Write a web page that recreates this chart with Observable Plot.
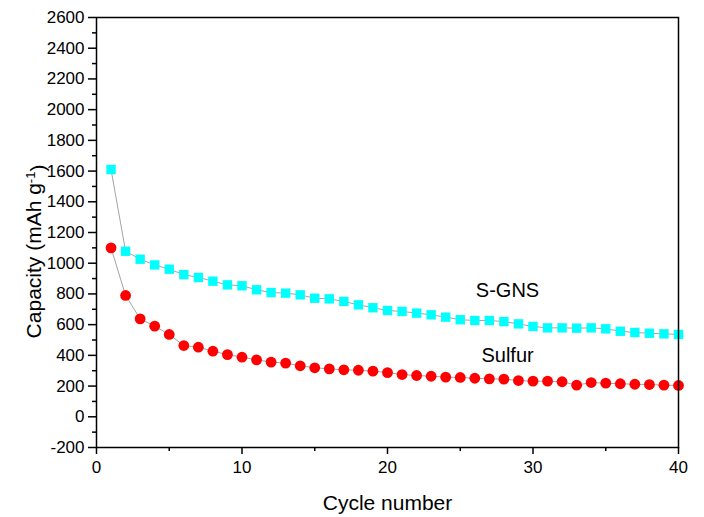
<!DOCTYPE html>
<html>
<head>
<meta charset="utf-8">
<script src="https://cdn.jsdelivr.net/npm/d3@7"></script>
<script src="https://cdn.jsdelivr.net/npm/@observablehq/plot@0.6"></script>
<style>
  html, body { margin: 0; padding: 0; background: #ffffff; }
  #chart { width: 704px; height: 517px; }
</style>
</head>
<body>
<div id="chart"></div>
<script>
const cycles = [1,2,3,4,5,6,7,8,9,10,11,12,13,14,15,16,17,18,19,20,21,22,23,24,25,26,27,28,29,30,31,32,33,34,35,36,37,38,39,40];
const sgns = [1610,1078,1026,989,961,926,907,883,859,853,827,809,805,794,772,768,751,729,710,692,686,675,664,649,632,627,627,620,605,588,579,579,577,579,573,557,549,544,540,536];
const sulfur = [1100,790,638,590,536,464,453,427,405,388,371,356,349,332,319,312,306,303,297,288,275,269,264,258,256,251,247,245,236,232,232,228,206,223,219,215,212,210,206,204];
const yMajor = [-200,0,200,400,600,800,1000,1200,1400,1600,1800,2000,2200,2400,2600];
const yMinor = [-100,100,300,500,700,900,1100,1300,1500,1700,1900,2100,2300,2500];
const xMajor = [0,10,20,30,40];
const xMinor = [5,15,25,35];
const seriesNames = ["S-GNS", "Sulfur"];
const xTitle = "Cycle number";
const yTitle = "Capacity (mAh g-1)";

const sgnsData = cycles.map((c, i) => ({cycle: c, cap: sgns[i]}));
const sulfurData = cycles.map((c, i) => ({cycle: c, cap: sulfur[i]}));
const plain = d => String(d);

const chart = Plot.plot({
  width: 704,
  height: 517,
  marginLeft: 96,
  marginRight: 26,
  marginTop: 17,
  marginBottom: 70,
  style: {fontFamily: "'Liberation Sans', Arial, sans-serif", background: "#ffffff", color: "#000"},
  x: {domain: [0, 40]},
  y: {domain: [-200, 2600]},
  marks: [
    Plot.axisY({ticks: yMajor, tickFormat: plain, tickSize: 8, tickPadding: 4, fontSize: 17, strokeWidth: 1.5, label: null}),
    Plot.axisY({ticks: yMinor, tickSize: 4, text: null, strokeWidth: 1.5, label: null}),
    Plot.axisX({ticks: xMajor, tickFormat: plain, tickSize: 7, tickPadding: 6, fontSize: 17, strokeWidth: 1.5, label: null}),
    Plot.axisX({ticks: xMinor, tickSize: 4, text: null, strokeWidth: 1.5, label: null}),
    Plot.line(sgnsData, {x: "cycle", y: "cap", stroke: "#999999", strokeWidth: 0.9}),
    Plot.line(sulfurData, {x: "cycle", y: "cap", stroke: "#999999", strokeWidth: 0.9}),
    Plot.dot(sgnsData, {x: "cycle", y: "cap", symbol: "square", r: 5.3, fill: "#00ffff", stroke: "none"}),
    Plot.dot(sulfurData, {x: "cycle", y: "cap", r: 5.4, fill: "#ff0000", stroke: "none"}),
    Plot.text([seriesNames[0]], {x: 28.25, y: 822, text: d => d, fontSize: 20, fill: "#000"}),
    Plot.text([seriesNames[1]], {x: 28.25, y: 400, text: d => d, fontSize: 20, fill: "#000"}),
    Plot.text([yTitle], {frameAnchor: "left", textAnchor: "middle", dx: -62, dy: 19, rotate: -90, text: d => d, fontSize: 21, fill: "#000"}),
    Plot.text([xTitle], {frameAnchor: "bottom", dy: 62, text: d => d, fontSize: 21, fill: "#000"}),
    Plot.frame({stroke: "#000", strokeWidth: 1.5})
  ]
});

// superscript in the y title
d3.select(chart).selectAll("text").each(function() {
  if (this.textContent === yTitle) {
    const t = d3.select(this);
    t.text(null);
    t.append("tspan").text("Capacity (mAh g");
    t.append("tspan").attr("dy", "-0.45em").attr("font-size", 13).text("-1");
    t.append("tspan").attr("dy", "0.45em").text(")");
  }
});

document.getElementById("chart").appendChild(chart);
</script>
</body>
</html>
